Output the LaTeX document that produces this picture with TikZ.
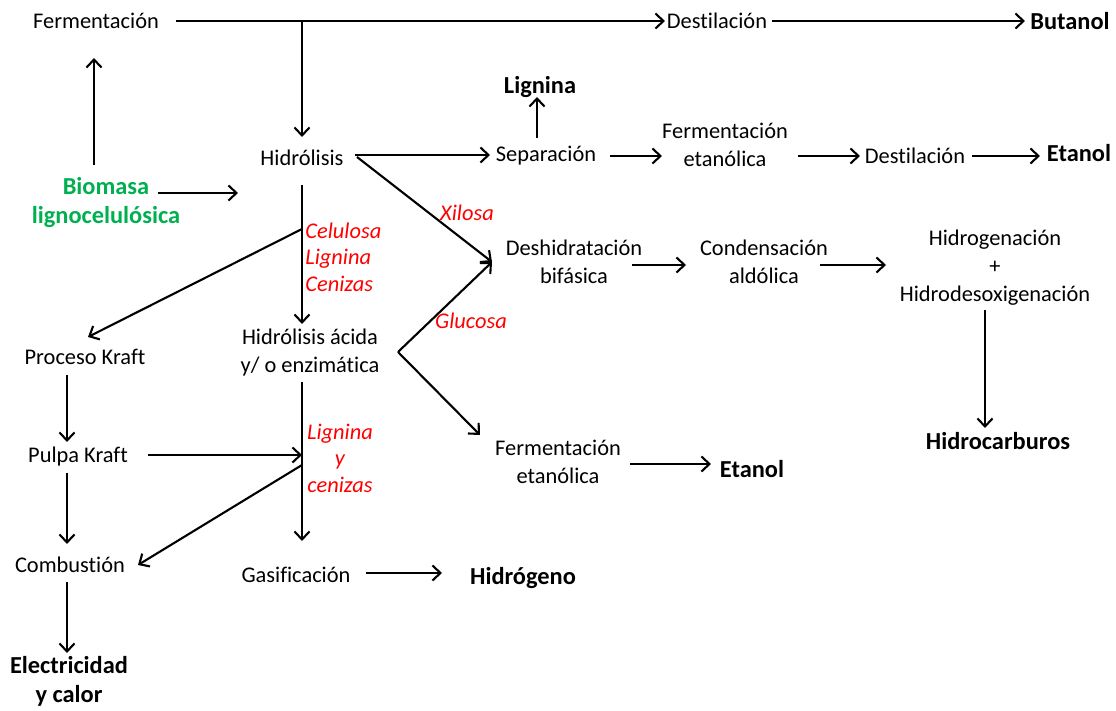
\documentclass[tikz,border=0pt]{standalone}
\usepackage{fontspec}
\setmainfont{Carlito}[Ligatures=NoCommon]
\usetikzlibrary{arrows.meta,calc}
\definecolor{biogreen}{RGB}{0,176,80}
\newcommand\txtfont{\fontsize{11.2}{14}\selectfont}
\newcommand\prodfont{\fontsize{12.2}{14.5}\selectfont\bfseries}
\newcommand\lblfont{\fontsize{11.2}{13.2}\selectfont\itshape}
\tikzset{
  stage/.style={inner sep=0pt, align=center, font=\txtfont},
  product/.style={inner sep=0pt, align=center, font=\prodfont},
  feed/.style={product, text=biogreen},
  stream/.style={inner sep=0pt, align=center, font=\lblfont, text=red},
  arr/.style={line width=1.05pt, -{Straight Barb[length=4pt,width=7.5pt,line width=1.05pt]}}
}
\begin{document}
\begin{tikzpicture}[x=0.5pt,y=-0.5pt]
\useasboundingbox (0,0) rectangle (1116,711);

% process stages
\node[stage] (ferm) at (96,21) {Fermentación};
\node[stage] (dest1) at (717,21) {Destilación};
\node[product] (but) at (1070,21) {Butanol};
\node[feed] (biom) at (106,203) {Biomasa\\lignocelulósica};
\node[stage] (hid) at (302,158) {Hidrólisis};
\node[stage] (sep) at (546,156) {Separación};
\node[product] (lig) at (540,87) {Lignina};
\node[stage] (fet1) at (725,145) {Fermentación\\etanólica};
\node[stage] (dest2) at (915,156) {Destilación};
\node[product] (eta1) at (1079,153) {Etanol};
\node[stage] (desh) at (574,262) {Deshidratación\\bifásica};
\node[stage] (cond) at (764,262) {Condensación\\aldólica};
\node[stage] (hdo) at (995,268) {Hidrogenación\\+\\Hidrodesoxigenación};
\node[product] (hc) at (998,441) {Hidrocarburos};
\node[stage] (kraft) at (85,357) {Proceso Kraft};
\node[stage] (hac) at (310,353) {Hidrólisis ácida\\y/ o enzimática};
\node[stage] (fet2) at (558,462) {Fermentación\\etanólica};
\node[product] (eta2) at (752,469) {Etanol};
\node[stage] (pulpa) at (78,457) {Pulpa Kraft};
\node[stage] (comb) at (70,565) {Combustión};
\node[stage] (gas) at (296,575) {Gasificación};
\node[product] (hg) at (523,578) {Hidrógeno};
\node[product] (elec) at (69,681) {Electricidad\\y calor};

% stream labels
\node[stream] (xil) at (467,213) {Xilosa};
\node[stream] (glu) at (471,321) {Glucosa};
\node[stream, align=left, anchor=west] (cel) at (305,257) {Celulosa\\Lignina\\Cenizas};
\node[stream] (lyc) at (340,458) {Lignina\\y\\cenizas};

% junction points
\coordinate (j1) at ($(ferm)+(206,0)$);
\coordinate (j2) at ($(hid)+(0,71)$);
\coordinate (j3) at ($(hac)+(88,-1)$);
\coordinate (j4) at ($(hac)+(-8,102)$);
\coordinate (j5) at ($(hac)+(-8,112)$);

% connectors
\draw[arr] ($(ferm)+(80,0)$) -- ($(dest1)+(-52,0)$);
\draw[arr] ($(dest1)+(55,0)$) -- ($(but)+(-45,0)$);
\draw[arr] (j1) -- ($(hid)+(0,-21)$);
\draw[arr] ($(biom)+(-12,-38)$) -- ($(ferm)+(-2,37)$);
\draw[arr] ($(biom)+(52,-10)$) -- ($(hid)+(-64,35)$);
\draw[arr] ($(hid)+(53,-3)$) -- ($(sep)+(-56,-1)$);
\draw[arr] ($(sep)+(-9,-18)$) -- ($(lig)+(-3,10)$);
\draw[arr] ($(sep)+(64,0)$) -- ($(fet1)+(-63,11)$);
\draw[arr] ($(fet1)+(73,11)$) -- ($(dest2)+(-55,0)$);
\draw[arr] ($(dest2)+(57,0)$) -- ($(eta1)+(-39,3)$);
\draw[arr] ($(hid)+(55,-1)$) -- ($(desh)+(-82,0)$);
\draw[arr] ($(hid)+(0,27)$) -- ($(hac)+(-8,-29)$);
\draw[arr] (j2) -- ($(kraft)+(3,-20)$);
\draw[arr] (j3) -- ($(desh)+(-82,0)$);
\draw[arr] (j3) -- ($(fet2)+(-78,-27)$);
\draw[arr] ($(desh)+(58,3)$) -- ($(cond)+(-78,3)$);
\draw[arr] ($(cond)+(56,3)$) -- ($(hdo)+(-109,-3)$);
\draw[arr] ($(hdo)+(-10,42)$) -- ($(hc)+(-13,-13)$);
\draw[arr] ($(fet2)+(72,2)$) -- ($(eta2)+(-41,-5)$);
\draw[arr] ($(hac)+(-8,29)$) -- ($(gas)+(6,-34)$);
\draw[arr] ($(pulpa)+(70,-2)$) -- (j4);
\draw[arr] (j5) -- ($(comb)+(68,0)$);
\draw[arr] ($(kraft)+(-18,18)$) -- ($(pulpa)+(-11,-15)$);
\draw[arr] ($(pulpa)+(-11,16)$) -- ($(comb)+(-3,-21)$);
\draw[arr] ($(comb)+(-3,17)$) -- ($(elec)+(-2,-28)$);
\draw[arr] ($(gas)+(70,-2)$) -- ($(hg)+(-81,-5)$);
\end{tikzpicture}
\end{document}
